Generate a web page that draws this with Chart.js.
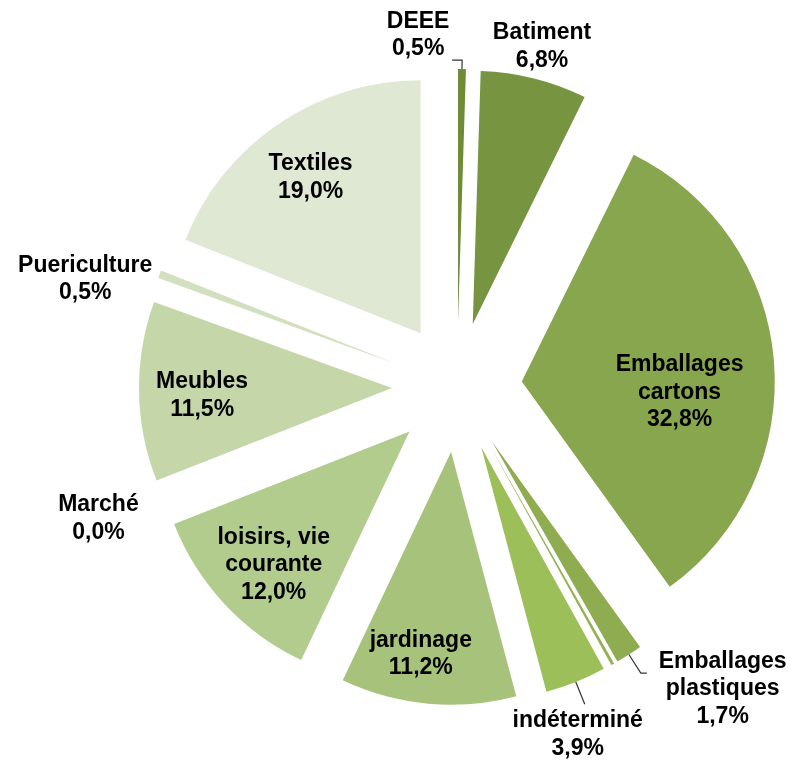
<!DOCTYPE html>
<html>
<head>
<meta charset="utf-8">
<script src="https://cdn.jsdelivr.net/npm/chart.js@4/dist/chart.umd.min.js"></script>
<style>
  html, body { margin: 0; padding: 0; background: #fff; }
  canvas { display: block; }
</style>
</head>
<body>
<canvas id="pieCanvas" width="795" height="763"></canvas>
<script>
// slices, clockwise from 12 o'clock
const categories = ["DEEE", "Batiment", "Emballages cartons", "Emballages plastiques", "",
  "indéterminé", "jardinage", "loisirs, vie courante", "Marché", "Meubles", "Puericulture", "Textiles"];
const shares = [0.5, 6.8, 32.8, 1.7, 0.2, 3.9, 11.2, 12.0, 0.0, 11.5, 0.5, 19.0];
const labelLines = [["DEEE"], ["Batiment"], ["Emballages", "cartons"], ["Emballages", "plastiques"], [],
  ["indéterminé"], ["jardinage"], ["loisirs, vie", "courante"], ["Marché"], ["Meubles"], ["Puericulture"], ["Textiles"]];
const sliceColors = ["#6e8c36", "#779441", "#88a64d", "#8fac50", "#95b254", "#9dbf5a",
  "#a7c37b", "#b2cc8e", "#bcd19a", "#c5d6a9", "#d3e0bf", "#dfe8d3"];

// label placement: distance from pie centre (x radius) and turn from slice mid angle (deg)
const labelDist = [1.40, 1.387, 0.88, 1.59, 0, 1.455, 1.066, 1.01, 1.51, 1.008, 1.53, 1.01];
const labelTurn = [-7.2, 0, 6.2, -8.6, 0, 2.8, 2.5, -1.1, 1.3, -1.1, -4.6, -0.8];
// leader lines: [outward length, horizontal run] or null
const leaders = [[9, -10], null, null, [22, 6], null, [24, 0], null, null, null, null, null, null];

const EXPLODE = 65; // every slice pulled out from the centre

const fmtPct = (v) => v.toFixed(1).replace(".", ",") + "%";

function midAngle(arc) {
  const { startAngle, endAngle } = arc.getProps(["startAngle", "endAngle"], true);
  return (startAngle + endAngle) / 2;
}

// draw each arc shifted outward along its bisector (exploded pie)
const explodePie = {
  id: "explodePie",
  beforeDatasetsDraw(chart) {
    const ctx = chart.ctx;
    const meta = chart.getDatasetMeta(0);
    meta.data.forEach((arc) => {
      const mid = midAngle(arc);
      ctx.save();
      ctx.translate(Math.cos(mid) * EXPLODE, Math.sin(mid) * EXPLODE);
      arc.draw(ctx);
      ctx.restore();
    });
    return false;
  },
};

const pieLabels = {
  id: "pieLabels",
  afterDraw(chart) {
    const ctx = chart.ctx;
    const meta = chart.getDatasetMeta(0);
    ctx.save();
    ctx.font = "bold 23px 'Liberation Sans', Arial, sans-serif";
    ctx.fillStyle = "#000";
    ctx.textAlign = "center";
    ctx.textBaseline = "middle";
    meta.data.forEach((arc, i) => {
      const lines = labelLines[i];
      if (!lines.length) return;
      const { x, y, outerRadius } = arc.getProps(["x", "y", "outerRadius"], true);
      const mid = midAngle(arc);

      if (leaders[i]) {
        const [out, run] = leaders[i];
        const r0 = EXPLODE + outerRadius;
        const p0x = x + Math.cos(mid) * r0, p0y = y + Math.sin(mid) * r0;
        const p1x = p0x + Math.cos(mid) * out, p1y = p0y + Math.sin(mid) * out;
        ctx.strokeStyle = "#333";
        ctx.lineWidth = 1.2;
        ctx.beginPath();
        ctx.moveTo(p0x, p0y);
        ctx.lineTo(p1x, p1y);
        if (run) ctx.lineTo(p1x + run, p1y);
        ctx.stroke();
      }

      const a = mid + labelTurn[i] * Math.PI / 180;
      const d = labelDist[i] * outerRadius;
      const lx = x + Math.cos(a) * d, ly = y + Math.sin(a) * d;
      const all = [...lines, fmtPct(shares[i])];
      const lh = 27.5;
      all.forEach((t, k) => {
        ctx.fillText(t, lx, ly + (k - (all.length - 1) / 2) * lh);
      });
    });
    ctx.restore();
  },
};

new Chart(document.getElementById("pieCanvas"), {
  type: "pie",
  data: {
    labels: categories,
    datasets: [
      {
        data: shares,
        backgroundColor: sliceColors,
        borderWidth: 0,
      },
    ],
  },
  options: {
    responsive: false,
    animation: false,
    radius: 253,
    layout: { padding: { left: 119, top: 11, right: 0, bottom: 0 } },
    plugins: {
      legend: { display: false },
      tooltip: { enabled: false },
    },
  },
  plugins: [explodePie, pieLabels],
});
</script>
</body>
</html>
